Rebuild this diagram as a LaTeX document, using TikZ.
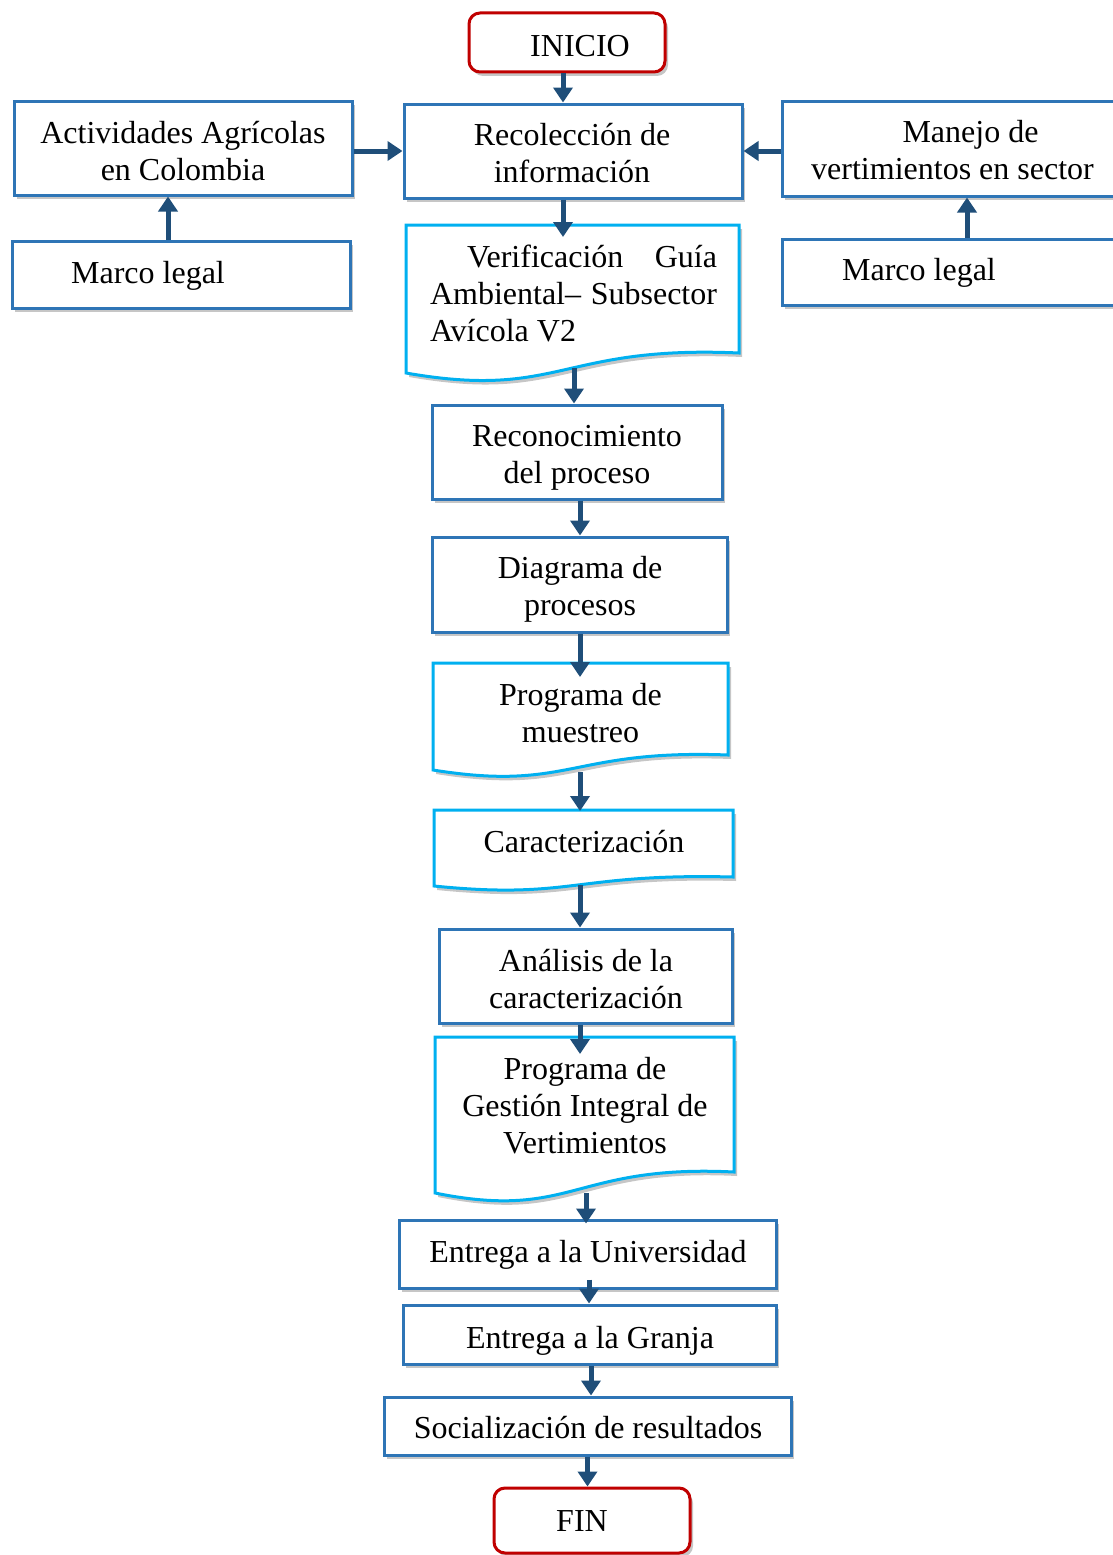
\documentclass[tikz,border=0pt]{standalone}
\usepackage{fontspec}
\setmainfont{Liberation Serif}
\usetikzlibrary{shadows,arrows.meta}
\definecolor{boxblue}{RGB}{46,117,182}
\definecolor{doccyan}{RGB}{0,176,240}
\definecolor{startred}{RGB}{192,0,0}
\definecolor{arrowblue}{RGB}{31,78,121}
\begin{document}
\begin{tikzpicture}[x=1pt,y=-1pt,
  every node/.style={font=\fontsize{32}{37}\selectfont, inner sep=0pt},
  shad/.style={drop shadow={opacity=0.45, shadow xshift=3pt, shadow yshift=-4pt}},
  box/.style={draw=boxblue, line width=3pt, fill=white, shad},
  term/.style={draw=startred, line width=3pt, fill=white, rounded corners=11pt, shad},
  docline/.style={draw=doccyan, line width=3pt, fill=white, shad},
  txt/.style={align=center},
  arr/.style={draw=arrowblue, line width=5pt, -{Triangle[width=19pt,length=15pt]}}]
\useasboundingbox (0,0) rectangle (1112,1555);

% terminals and boxes
\node[term, minimum width=196pt, minimum height=59pt] (ini) at (567,42.5) {};
\node[txt] (iniT) at (580,46.5) {INICIO};
\node[box, minimum width=338pt, minimum height=94pt] (rec) at (573,151) {};
\node[txt] (recT) at (572,153.5) {Recolección de\\información};
\node[box, minimum width=338pt, minimum height=94pt] (act) at (183,148) {};
\node[txt] (actT) at (183,151) {Actividades Agrícolas\\en Colombia};
\node[box, minimum width=338pt, minimum height=67pt] (mla) at (181,274.5) {};
\node[txt] (mlaT) at (148,275.5) {Marco legal};
\node[box, minimum width=343pt, minimum height=95pt] (man) at (953.5,148.5) {};
\node[txt] (manT) at (952.5,150.5) {\hspace*{36pt}Manejo de\\vertimientos en sector};
\node[box, minimum width=343pt, minimum height=66pt] (mlb) at (953.5,272) {};
\node[txt] (mlbT) at (919,273) {Marco legal};

% document shapes
\draw[docline] (406,225) -- (739,225) -- (739,353) .. controls (560,345) and (560,400) .. (406,373) -- cycle;
\node[align=left] (ver) at (573.5,293) {\makebox[287pt][l]{\hspace*{37pt}Verificación\hfill Guía}\\\makebox[287pt][l]{Ambiental–\hfill Subsector}\\Avícola V2};
\coordinate (verT) at (563,237);
\coordinate (verB) at (574,368);

\node[box, minimum width=290pt, minimum height=94pt] (reco) at (577,452) {};
\node[txt] (recoT) at (577,458) {Reconocimiento\\del proceso};
\node[box, minimum width=295pt, minimum height=95pt] (diag) at (579.5,584.5) {};
\node[txt] (diagT) at (580,589.5) {Diagrama de\\procesos};

\draw[docline] (433,663) -- (728,663) -- (728,755) .. controls (570,749) and (570,792) .. (433,770) -- cycle;
\node[txt] (mue) at (580.5,713.5) {Programa de\\muestreo};
\coordinate (mueT) at (580,677);
\coordinate (mueB) at (580,772);

\draw[docline] (434,810) -- (733,810) -- (733,877) .. controls (573,873) and (573,900) .. (434,886) -- cycle;
\node[txt] (car) at (584,841.5) {Caracterización};
\coordinate (carT) at (580,811);
\coordinate (carB) at (580,885);

\node[box, minimum width=293pt, minimum height=94pt] (anal) at (585.5,976) {};
\node[txt] (analT) at (586,979) {Análisis de la\\caracterización};

\draw[docline] (435,1037) -- (734,1037) -- (734,1172) .. controls (573,1164) and (573,1221) .. (435,1193) -- cycle;
\node[txt] (ges) at (585,1105.5) {Programa de\\Gestión Integral de\\Vertimientos};
\coordinate (gesT) at (580,1054);
\coordinate (gesB) at (586,1193);

\node[box, minimum width=377pt, minimum height=68pt] (entu) at (587.5,1254) {};
\node[txt] (entuT) at (588,1254.5) {Entrega a la Universidad};
\node[box, minimum width=373pt, minimum height=59pt] (entg) at (589.5,1334.5) {};
\node[txt] (entgT) at (590,1340.5) {Entrega a la Granja};
\node[box, minimum width=407pt, minimum height=58pt] (soc) at (587.5,1426) {};
\node[txt] (socT) at (588,1427.5) {Socialización de resultados};
\node[term, minimum width=196pt, minimum height=65pt] (fin) at (592,1520.5) {};
\node[txt] (finT) at (582,1521.5) {FIN};

% connectors
\draw[arr] ([xshift=-4pt]ini.south) -- ([xshift=-4pt]ini.south |- rec.north);
\draw[arr] (rec.west -| act.east) -- (rec.west);
\draw[arr] (rec.east -| man.west) -- (rec.east);
\draw[arr] ([xshift=-13pt]mla.north) -- ([xshift=-13pt]mla.north |- act.south);
\draw[arr] ([xshift=13.5pt]mlb.north) -- ([xshift=13.5pt]mlb.north |- man.south);
\draw[arr] (rec.south -| verT) -- (verT);
\draw[arr] (verB) -- (verB |- reco.north);
\draw[arr] ([xshift=3pt]reco.south) -- ([xshift=3pt]reco.south |- diag.north);
\draw[arr] (diag.south -| mueT) -- (mueT);
\draw[arr] (mueB) -- (carT);
\draw[arr] (carB) -- (carB |- anal.north);
\draw[arr] (anal.south -| gesT) -- (gesT);
\draw[arr] (gesB) -- ([yshift=-5pt]gesB |- entu.north);
\draw[arr] ([xshift=1.5pt,yshift=10pt]entu.south) -- ([xshift=1.5pt]entu.south |- entg.north);
\draw[arr] ([xshift=1.5pt]entg.south) -- ([xshift=1.5pt]entg.south |- soc.north);
\draw[arr] (soc.south) -- (soc.south |- fin.north);
\end{tikzpicture}
\end{document}
